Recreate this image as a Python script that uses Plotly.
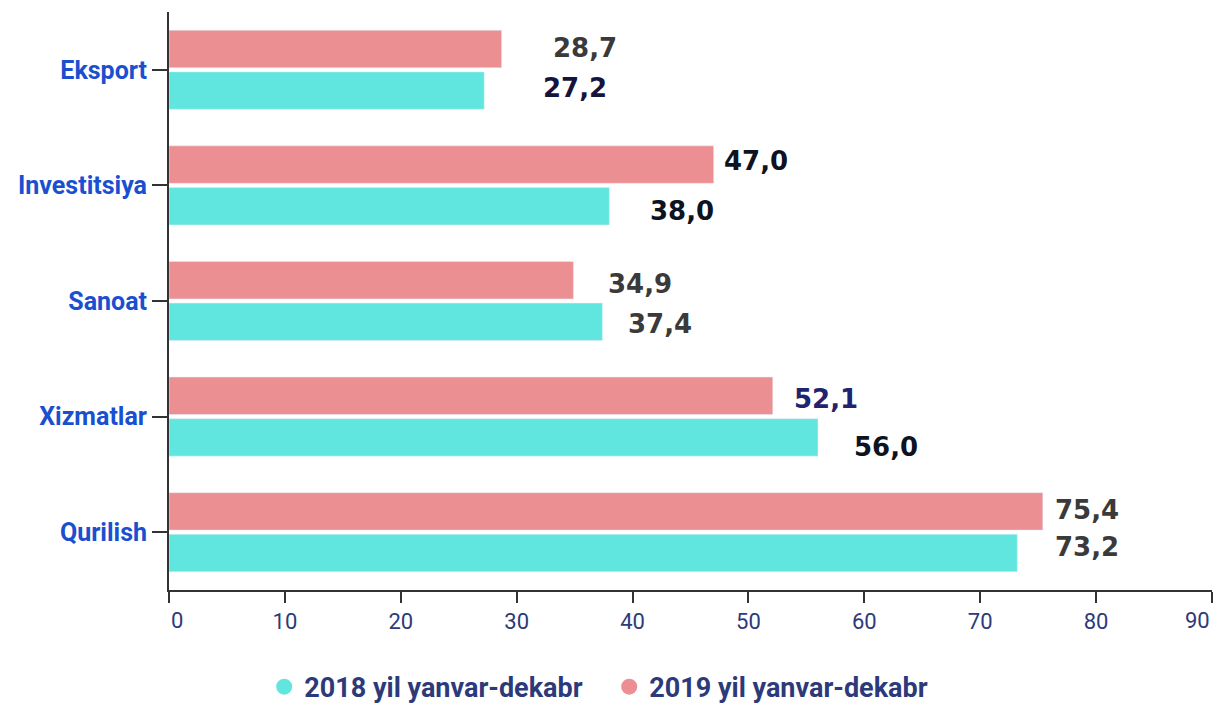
import plotly.graph_objects as go

categories = ["Eksport", "Investitsiya", "Sanoat", "Xizmatlar", "Qurilish"]
values_2018 = [27.2, 38.0, 37.4, 56.0, 73.2]
values_2019 = [28.7, 47.0, 34.9, 52.1, 75.4]
labels_2018 = ["27,2", "38,0", "37,4", "56,0", "73,2"]
labels_2019 = ["28,7", "47,0", "34,9", "52,1", "75,4"]
series_names = ["2018 yil yanvar-dekabr", "2019 yil yanvar-dekabr"]
x_ticks = [0, 10, 20, 30, 40, 50, 60, 70, 80, 90]
x_tick_labels = ["0", "10", "20", "30", "40", "50", "60", "70", "80", "90"]

# label styling (pixel shifts and colours)
shift_x_2018 = [57, 39, 24, 34, 36]
shift_x_2019 = [49, 8, 33, 19, 10]
shift_y_2018 = [-18, -26, -23, -30, -15]
shift_y_2019 = [22, 24, 17, 18, 22]
color_2018 = ["#14143f", "#0d1320", "#3a3a3a", "#0d1320", "#3a3a3a"]
color_2019 = ["#3a3a3a", "#0d1320", "#3a3a3a", "#1f2370", "#3a3a3a"]

TEAL = "#61e6df"
PINK = "#eb8f93"
LABEL_FONT = "DejaVu Sans"
TICK_COLOR = "#2d3a7a"

order = categories[::-1]

fig = go.Figure()
fig.add_trace(go.Bar(y=categories, x=values_2018, orientation="h", name=series_names[0],
                     marker=dict(color=TEAL), showlegend=False, hoverinfo="x+y"))
fig.add_trace(go.Bar(y=categories, x=values_2019, orientation="h", name=series_names[1],
                     marker=dict(color=PINK), showlegend=False, hoverinfo="x+y"))
# legend entries with circle markers
for nm, col in zip(series_names, [TEAL, PINK]):
    fig.add_trace(go.Scatter(x=[None], y=[None], mode="markers", name=nm,
                             marker=dict(color=col, size=22, symbol="circle")))

anns = []
for cat, v, lab, sx, sy, c in zip(categories, values_2018, labels_2018, shift_x_2018, shift_y_2018, color_2018):
    anns.append(dict(x=v, y=cat, xref="x", yref="y", text=lab, showarrow=False,
                     xanchor="left", yanchor="middle", xshift=sx, yshift=sy,
                     font=dict(family=LABEL_FONT, size=26, color=c, weight="bold")))
for cat, v, lab, sx, sy, c in zip(categories, values_2019, labels_2019, shift_x_2019, shift_y_2019, color_2019):
    anns.append(dict(x=v, y=cat, xref="x", yref="y", text=lab, showarrow=False,
                     xanchor="left", yanchor="middle", xshift=sx, yshift=sy,
                     font=dict(family=LABEL_FONT, size=26, color=c, weight="bold")))

# edge tick labels drawn inside the plot width (as in the reference)
tick_text = [""] + x_tick_labels[1:-1] + [""]
for xv, lab, anc in [(x_ticks[0], x_tick_labels[0], "left"), (x_ticks[-1], x_tick_labels[-1], "right")]:
    anns.append(dict(x=xv, y=0, xref="x", yref="paper", text=lab, showarrow=False,
                     xanchor=anc, yanchor="top", yshift=-16,
                     font=dict(family="Roboto", size=22, color=TICK_COLOR)))

fig.update_layout(
    width=1216, height=704,
    margin=dict(l=169, r=4, t=12, b=114),
    paper_bgcolor="white", plot_bgcolor="white",
    barmode="group", bargap=0.28, bargroupgap=0.1,
    annotations=anns,
    showlegend=True,
    legend=dict(orientation="h", xref="container", x=0.501, xanchor="center",
                yref="container", y=0.024, yanchor="middle",
                font=dict(family="Roboto", size=27, color=TICK_COLOR, weight="bold"),
                itemwidth=30, traceorder="normal",
                entrywidth=300, entrywidthmode="pixels"),
    xaxis=dict(range=[0, 90], tickvals=x_ticks, ticktext=tick_text, showgrid=False, zeroline=False,
               showline=True, linecolor="#333333", linewidth=2,
               ticks="outside", ticklen=11, tickwidth=2, tickcolor="#333333",
               tickfont=dict(family="Roboto", size=22, color=TICK_COLOR),
               fixedrange=True),
    yaxis=dict(type="category", categoryorder="array", categoryarray=order,
               range=[-0.5, 4.5], showgrid=False, zeroline=False,
               showline=True, linecolor="#333333", linewidth=2,
               ticks="outside", ticklen=15, tickwidth=2, tickcolor="#333333",
               tickfont=dict(family="Roboto", size=25, color="#1a4fd0", weight="bold"),
               fixedrange=True),
)

fig.write_html("out.html", config={"displayModeBar": False},
               post_script="document.body.style.margin='0';document.body.style.overflow='hidden';")
